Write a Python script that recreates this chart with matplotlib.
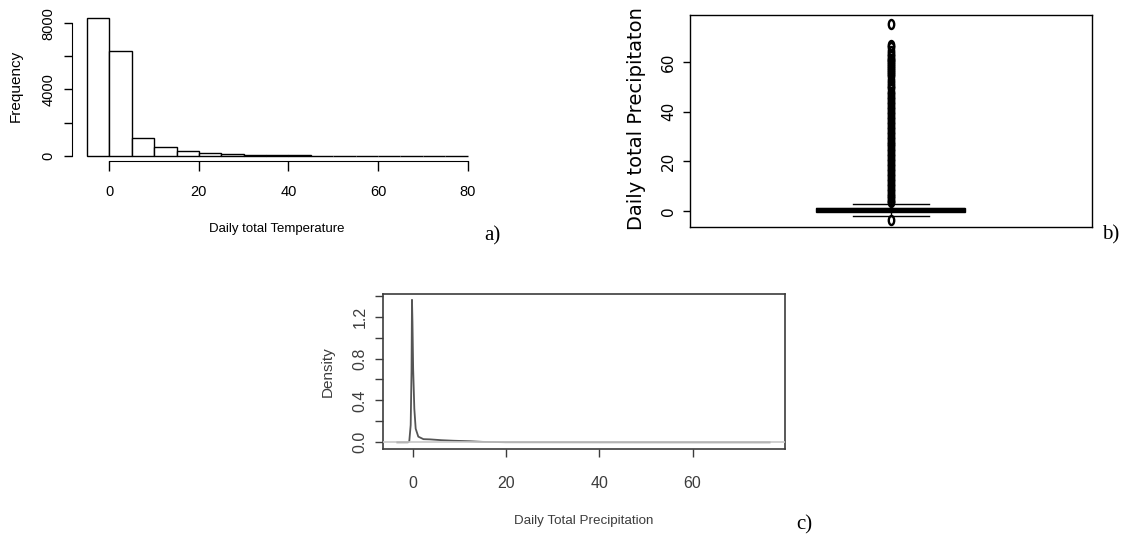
import matplotlib
matplotlib.use("Agg")
import matplotlib.pyplot as plt
from matplotlib.path import Path
from matplotlib.markers import MarkerStyle
import numpy as np

W, H = 1126, 540

# a) histogram of daily totals
hist_edges = [-5, 0, 5, 10, 15, 20, 25, 30, 35, 40, 45, 50, 55, 60, 65, 70, 75, 80]
hist_counts = [8300, 6310, 1050, 505, 285, 145, 85, 50, 25, 15, 10, 6, 4, 3, 2, 1, 1]

# b) boxplot summary
box_q1, box_med, box_q3 = -0.4, 0.4, 1.3
whisk_lo, whisk_hi = -1.9, 2.8
outliers = [75.5, 67.0, 66.0, 64.5, 63.5, 62.5, 61.5, 60.8, 60.0, 59.2, 58.4,
            57.6, 56.8, 56.0, 55.2, 54.4, 53.0, 51.8, 50.6, 49.5,
            48, 47, 46, 45, 44, 43, 42, 41, 40, 39, 38, 37, 36, 35, 34, 33,
            32, 31, 30, 29, 28, 27, 26, 25, 24, 23, 22, 21, 20, 19, 18, 17,
            16, 15, 14, 13, 12, 11, 10, 9, 8, 7, 6, 5, 4, 3.5,
            -3.6]

# c) density curve
dens_x = [-3.3, -1.0, -0.73, -0.43, -0.25, -0.15, -0.05, 0.1, 0.35, 0.64,
          1.2, 2.3, 3.7, 6.2, 8.7, 12.3, 15.0, 20, 40, 60, 76.5]
dens_y = [0.0, 0.0, 0.01, 0.165, 0.68, 1.36, 1.15, 0.7, 0.32, 0.13,
          0.054, 0.03, 0.028, 0.02, 0.015, 0.01, 0.004, 0.001, 0.0005, 0.0002, 0.0]


def px_axes(fig, left, top, right, bottom):
    return fig.add_axes([left / W, 1 - bottom / H, (right - left) / W, (bottom - top) / H])


def ftext(fig, x, y, s, **kw):
    fig.text(x / W, 1 - y / H, s, ha="center", va="center", **kw)


fig = plt.figure(figsize=(W / 100, H / 100), dpi=100)
sans = "Liberation Sans"

# ---------- a) ----------
ax = px_axes(fig, 71.7, 12.8, 482.9, 161.2)
ax.bar(hist_edges[:-1], hist_counts, width=5, align="edge", color="white",
       edgecolor="black", linewidth=1.0)
ax.set_xlim(-8.4, 83.4)
ax.set_ylim(-332, 8634)
for s in ["top", "right"]:
    ax.spines[s].set_visible(False)
ax.spines["left"].set_bounds(0, 8000)
ax.spines["bottom"].set_bounds(0, 80)
ax.set_yticks([0, 2000, 4000, 6000, 8000])
ax.set_yticklabels(["0", "", "4000", "", "8000"], rotation=90, va="center",
                   fontsize=10.5, family=sans)
ax.set_xticks([0, 20, 40, 60, 80])
ax.set_xticklabels(["0", "20", "40", "60", "80"], fontsize=10.5, family=sans)
ax.tick_params(axis="y", length=5.5, pad=6, width=1)
ax.tick_params(axis="x", length=7.2, pad=10, width=1)
ftext(fig, 277, 229, "Daily total Temperature", fontsize=9.5, family=sans)
ftext(fig, 16, 86, "Frequency", rotation=90, fontsize=11, family=sans)
ftext(fig, 492, 236, "a)", fontsize=15, family="Liberation Serif")

# ---------- b) ----------
ax = px_axes(fig, 690, 15, 1091.7, 226.7)
ell = Path.unit_circle()
ell = Path(ell.vertices * np.array([0.6, 1.0]), ell.codes)
stats = [dict(med=box_med, q1=box_q1, q3=box_q3, whislo=whisk_lo,
              whishi=whisk_hi, fliers=outliers)]
ax.bxp(stats, positions=[1], widths=0.371, capwidths=0.19, patch_artist=True,
       boxprops=dict(facecolor="black", edgecolor="black", linewidth=1),
       medianprops=dict(color="black", linewidth=3),
       whiskerprops=dict(color="black", linewidth=1, linestyle="--"),
       capprops=dict(color="black", linewidth=1),
       flierprops=dict(marker=MarkerStyle(ell), markersize=6.5,
                       markerfacecolor="none", markeredgecolor="black",
                       markeredgewidth=1.7))
ax.set_xlim(0.5, 1.5)
ax.set_ylim(-6.4, 79.1)
ax.set_xticks([])
ax.set_yticks([0, 20, 40, 60])
ax.set_yticklabels(["0", "20", "40", "60"], rotation=90, va="center",
                   fontsize=11, family="DejaVu Sans")
ax.tick_params(axis="y", length=5, pad=5, width=1)
for s in ax.spines.values():
    s.set_linewidth(1.0)
ftext(fig, 637, 119, "Daily total Precipitaton", rotation=90, fontsize=14,
      family="DejaVu Sans")
ftext(fig, 1111, 235, "b)", fontsize=15, family="Liberation Serif")

# ---------- c) ----------
grey = "#3c3c3c"
ax = px_axes(fig, 383.3, 294, 785, 449)
ax.plot(dens_x, dens_y, color="#555555", linewidth=1.3)
ax.axhline(0, color="#c8c8c8", linewidth=1.2, zorder=3)
ax.set_xlim(-6.3, 79.8)
ax.set_ylim(-0.064, 1.416)
ax.set_xticks([0, 20, 40, 60])
ax.set_xticklabels(["0", "20", "40", "60"], fontsize=11.5, family=sans, color=grey)
ax.set_yticks([0.0, 0.2, 0.4, 0.6, 0.8, 1.0, 1.2, 1.4])
ax.set_yticklabels(["0.0", "", "0.4", "", "0.8", "", "1.2", ""], rotation=90,
                   va="center", fontsize=11.5, family=sans, color=grey)
ax.tick_params(length=5.5, width=1, color=grey)
ax.tick_params(axis="x", pad=14)
ax.tick_params(axis="y", pad=6)
for s in ax.spines.values():
    s.set_linewidth(1.2)
    s.set_color(grey)
ftext(fig, 584, 521, "Daily Total Precipitation", fontsize=9.6, family=sans, color=grey)
ftext(fig, 328, 372, "Density", rotation=90, fontsize=11, family=sans, color=grey)
ftext(fig, 804, 525, "c)", fontsize=15, family="Liberation Serif")

fig.savefig("out.png", dpi=100)
